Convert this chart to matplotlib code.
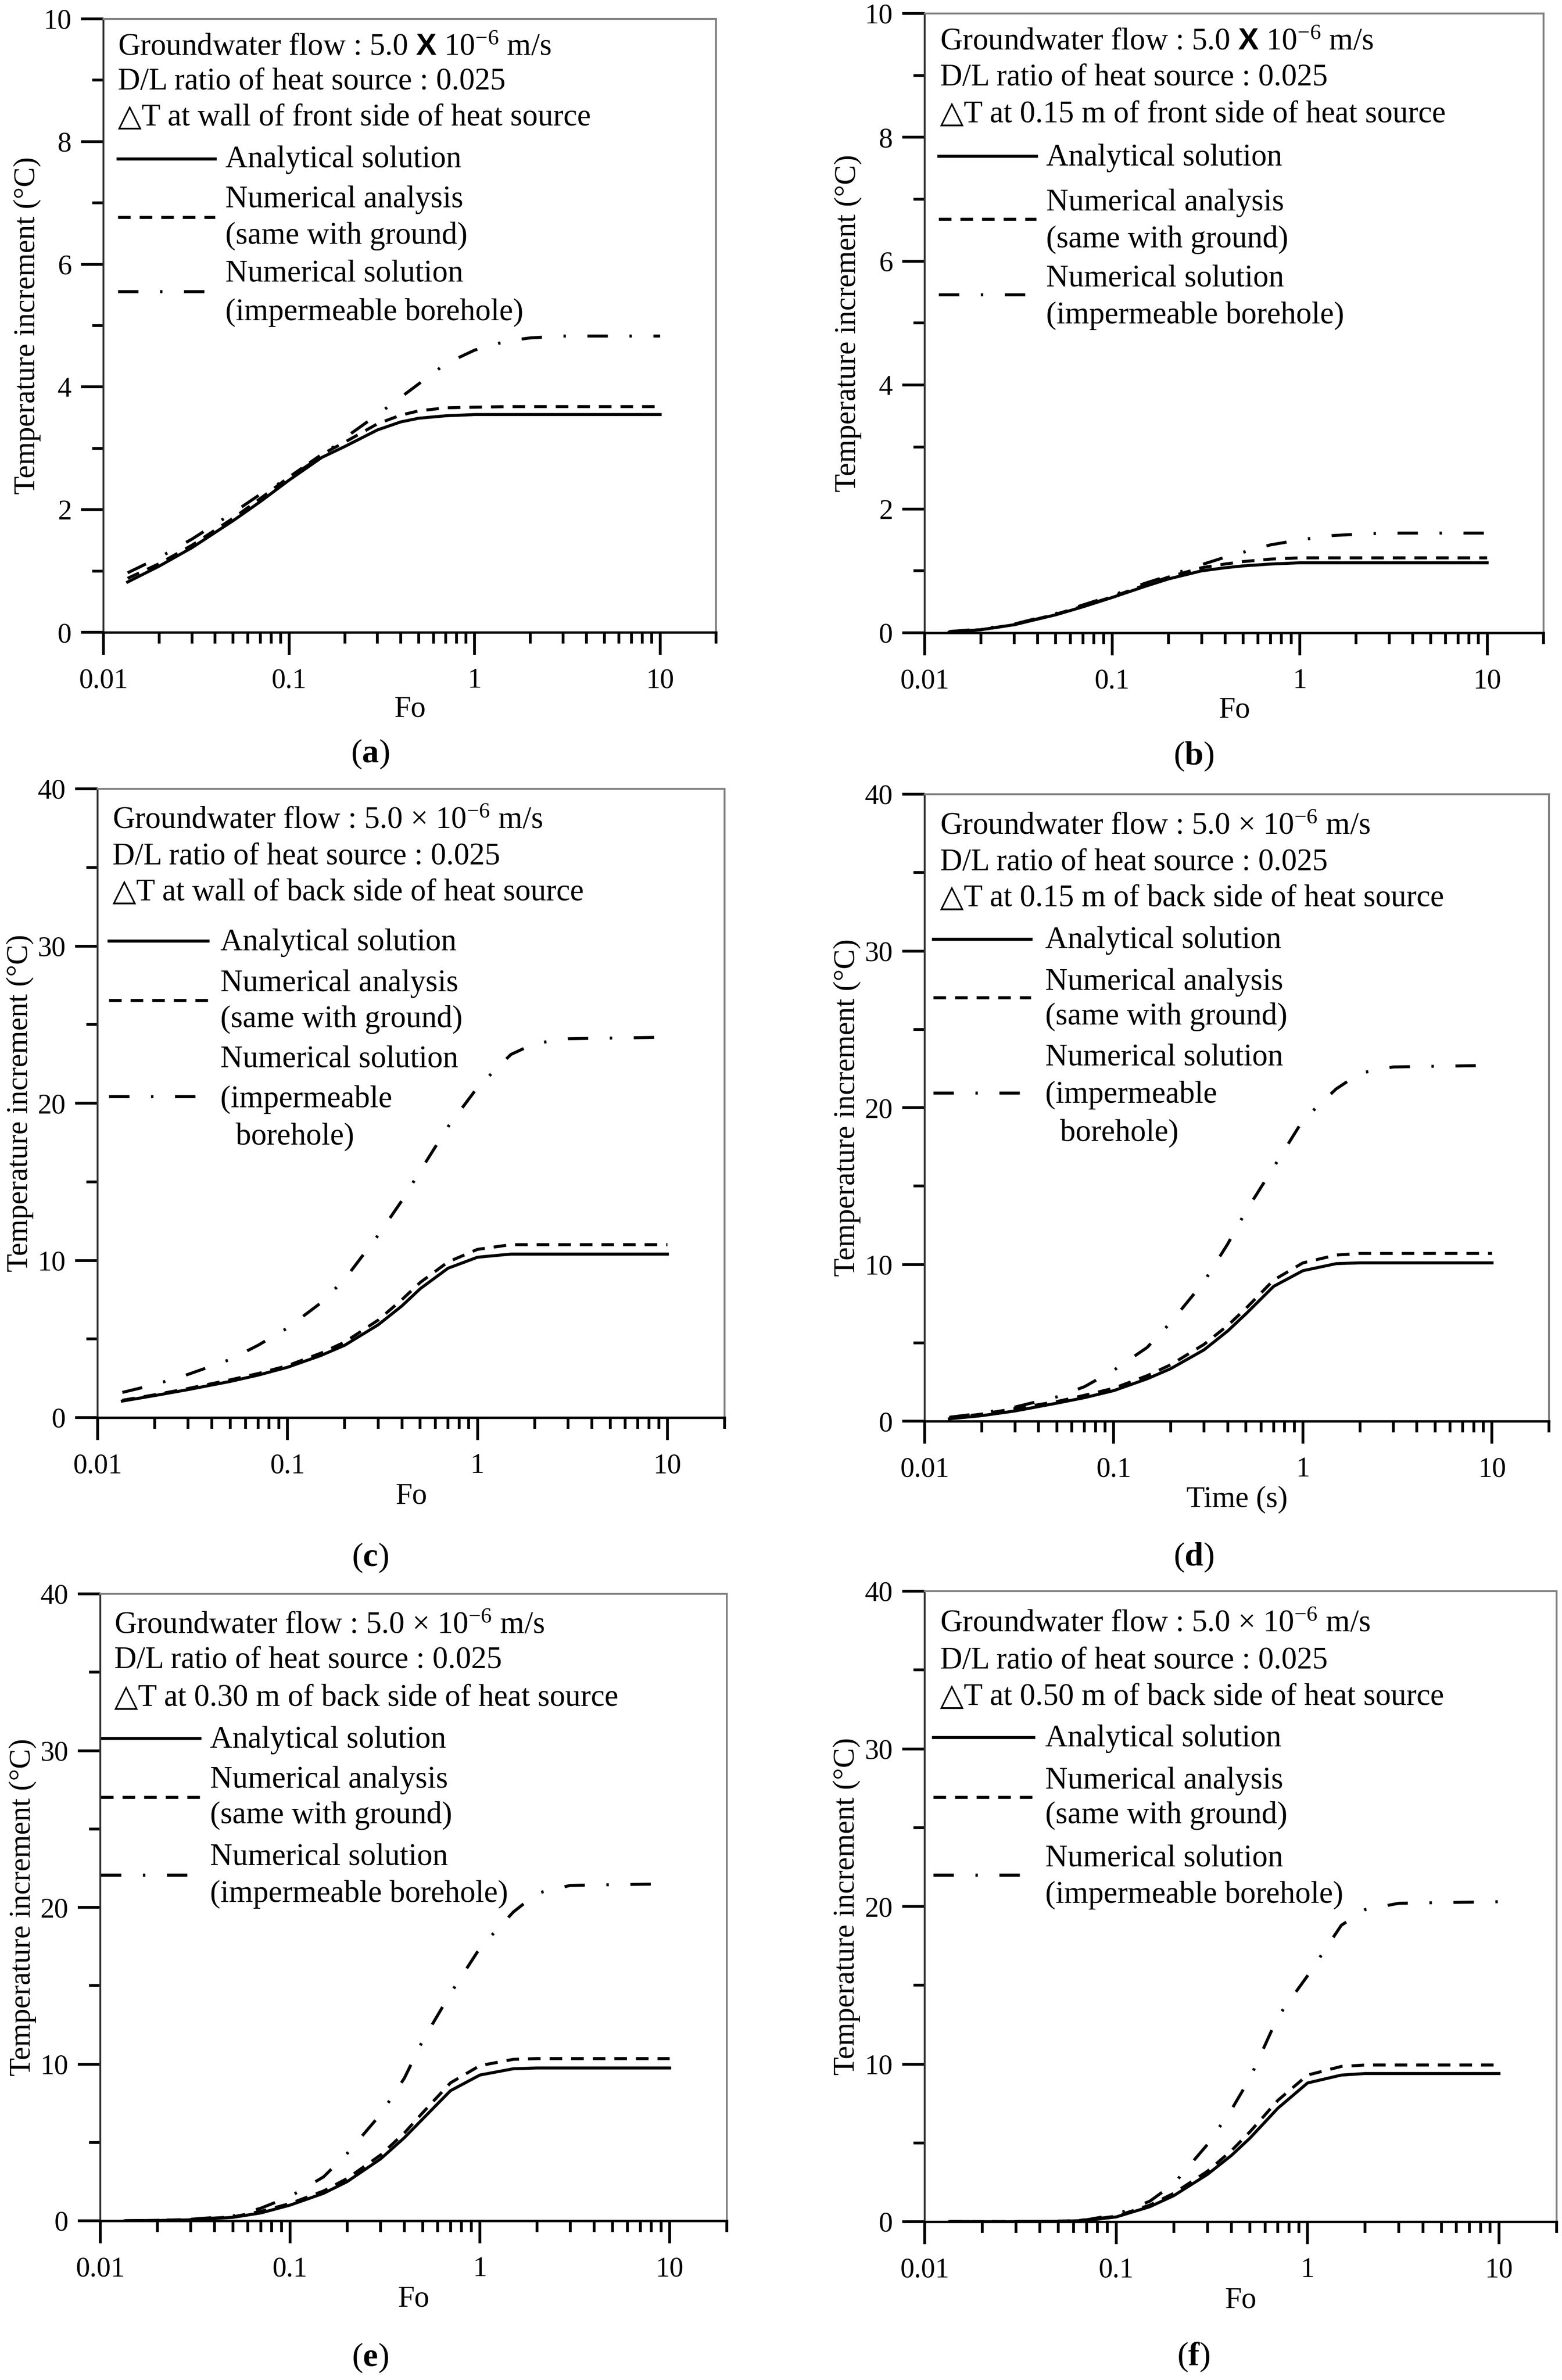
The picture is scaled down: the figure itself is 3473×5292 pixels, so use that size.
import numpy as np
import matplotlib
matplotlib.use("Agg")
import matplotlib.pyplot as plt
from matplotlib.ticker import FixedLocator, NullFormatter

plt.rcParams['font.family'] = ['Liberation Serif', 'DejaVu Serif', 'DejaVu Sans']
plt.rcParams['mathtext.fontset'] = 'custom'
plt.rcParams['mathtext.rm'] = 'Liberation Serif'
plt.rcParams['mathtext.it'] = 'Liberation Serif:italic'
plt.rcParams['mathtext.bf'] = 'Liberation Serif:bold'
plt.rcParams['mathtext.sf'] = 'Liberation Sans:bold'

# Fourier number (x) shared by every panel
FO = [0.0135, 0.02, 0.03, 0.05, 0.07, 0.1, 0.15, 0.2, 0.3, 0.4, 0.5, 0.7, 1.0, 1.5, 2.0, 3.0, 10.0]

# (a) wall, front side
A_ANALYTICAL = [0.82, 1.08, 1.38, 1.82, 2.13, 2.48, 2.85, 3.03, 3.30, 3.43, 3.49, 3.53, 3.55, 3.55, 3.55, 3.55, 3.55]
A_NUM_GROUND = [0.88, 1.12, 1.42, 1.86, 2.18, 2.53, 2.90, 3.10, 3.40, 3.54, 3.61, 3.66, 3.67, 3.68, 3.68, 3.68, 3.68]
A_NUM_IMPERM = [0.97, 1.22, 1.52, 1.95, 2.25, 2.52, 2.87, 3.17, 3.55, 3.83, 4.05, 4.38, 4.60, 4.75, 4.80, 4.83, 4.83]
# (b) 0.15 m, front side
B_ANALYTICAL = [0.01, 0.05, 0.13, 0.29, 0.42, 0.57, 0.75, 0.87, 1.00, 1.05, 1.08, 1.11, 1.13, 1.13, 1.13, 1.13, 1.13]
B_NUM_GROUND = [0.01, 0.05, 0.13, 0.30, 0.43, 0.58, 0.77, 0.90, 1.05, 1.11, 1.15, 1.19, 1.21, 1.21, 1.21, 1.21, 1.21]
B_NUM_IMPERM = [0.02, 0.06, 0.14, 0.31, 0.45, 0.60, 0.80, 0.92, 1.10, 1.22, 1.30, 1.42, 1.50, 1.57, 1.59, 1.61, 1.61]
# (c) wall, back side
C_ANALYTICAL = [1.05, 1.40, 1.78, 2.30, 2.70, 3.20, 3.95, 4.60, 5.90, 7.10, 8.20, 9.50, 10.2, 10.4, 10.4, 10.4, 10.4]
C_NUM_GROUND = [1.10, 1.45, 1.85, 2.40, 2.80, 3.30, 4.10, 4.80, 6.20, 7.50, 8.60, 9.90, 10.7, 11.0, 11.0, 11.0, 11.0]
C_NUM_IMPERM = [1.60, 2.10, 2.75, 3.70, 4.60, 5.70, 7.30, 8.80, 11.6, 13.8, 15.7, 18.5, 21.0, 23.1, 23.8, 24.1, 24.2]
# (d) 0.15 m, back side
D_ANALYTICAL = [0.15, 0.35, 0.65, 1.15, 1.50, 1.95, 2.70, 3.35, 4.55, 5.75, 6.85, 8.60, 9.60, 10.05, 10.1, 10.1, 10.1]
D_NUM_GROUND = [0.20, 0.45, 0.80, 1.25, 1.65, 2.10, 2.90, 3.60, 4.90, 6.10, 7.20, 9.00, 10.1, 10.6, 10.7, 10.7, 10.7]
D_NUM_IMPERM = [0.25, 0.50, 0.90, 1.55, 2.20, 3.25, 4.70, 6.30, 8.90, 11.3, 13.4, 16.2, 19.2, 21.2, 22.2, 22.6, 22.7]
# (e) 0.30 m, back side
E_ANALYTICAL = [0.0, 0.02, 0.06, 0.22, 0.50, 1.00, 1.75, 2.50, 3.95, 5.30, 6.50, 8.30, 9.30, 9.70, 9.75, 9.75, 9.75]
E_NUM_GROUND = [0.0, 0.03, 0.08, 0.25, 0.60, 1.10, 1.90, 2.70, 4.20, 5.60, 6.90, 8.80, 9.90, 10.3, 10.35, 10.35, 10.35]
E_NUM_IMPERM = [0.0, 0.03, 0.10, 0.30, 0.80, 1.55, 2.80, 4.30, 6.80, 9.10, 11.5, 14.5, 17.4, 19.7, 20.9, 21.4, 21.5]
# (f) 0.50 m, back side
F_ANALYTICAL = [0.0, 0.0, 0.0, 0.02, 0.08, 0.30, 0.95, 1.65, 3.00, 4.20, 5.30, 7.20, 8.80, 9.30, 9.40, 9.40, 9.40]
F_NUM_GROUND = [0.0, 0.0, 0.0, 0.03, 0.10, 0.35, 1.05, 1.80, 3.20, 4.50, 5.70, 7.70, 9.30, 9.85, 9.94, 9.94, 9.94]
F_NUM_IMPERM = [0.0, 0.0, 0.0, 0.03, 0.12, 0.45, 1.30, 2.40, 4.90, 7.10, 9.10, 13.0, 15.6, 18.8, 19.8, 20.2, 20.3]

FLOW_X = r"Groundwater flow : 5.0 $\mathsf{X}$ 10$^{-6}$ m/s"
FLOW_TIMES = r"Groundwater flow : 5.0 $\times$ 10$^{-6}$ m/s"
RATIO = "D/L ratio of heat source : 0.025"
POSITIONS = ["\u25b3T at wall of front side of heat source",
             "\u25b3T at 0.15 m of front side of heat source",
             "\u25b3T at wall of back side of heat source",
             "\u25b3T at 0.15 m of back side of heat source",
             "\u25b3T at 0.30 m of back side of heat source",
             "\u25b3T at 0.50 m of back side of heat source"]
XLABELS = ["Fo", "Fo", "Fo", "Time (s)", "Fo", "Fo"]
LETTERS = ["a", "b", "c", "d", "e", "f"]

W, H = 3473, 5292
fig = plt.figure(figsize=(W / 300, H / 300), dpi=300)

# pixel boxes of each axes: left, right, top, bottom
boxes = [(230, 1592, 42, 1406), (2056, 3432, 30, 1407),
         (217, 1611, 1754, 3152), (2056, 3444, 1766, 3160),
         (223, 1616, 3544, 4938), (2056, 3461, 3538, 4940)]
# legend block layout in axes fraction
# tx, hx0, hx1, lx, l1, l2, l3, an, an_h, na1, na2, na_h, ns1, ns2, ns3, ns_h
legs = [
    (.0235, .0235, .182, .199, .953, .897, .839, .770, .772, .705, .646, .677, .584, .521, None, .556),
    (.025, .0225, .180, .196, .953, .896, .837, .767, .770, .694, .635, .668, .571, .512, None, .546),
    (.024, .018, .176, .196, .949, .892, .835, .755, .758, .690, .633, .664, .569, .506, .447, .511),
    (.0245, .014, .170, .193, .948, .891, .834, .767, .769, .700, .645, .676, .579, .520, .460, .524),
    (.022, .001, .159, .175, .949, .894, .834, .767, .770, .703, .646, .676, .579, .521, None, .552),
    (.024, .0135, .172, .191, .948, .889, .832, .766, .768, .699, .644, .673, .575, .518, None, .550),
]
letter_pos = [(823, 1677), (2654, 1682), (823, 3464), (2654, 3463), (823, 5243), (2654, 5241)]

series = [(A_ANALYTICAL, A_NUM_GROUND, A_NUM_IMPERM), (B_ANALYTICAL, B_NUM_GROUND, B_NUM_IMPERM),
          (C_ANALYTICAL, C_NUM_GROUND, C_NUM_IMPERM), (D_ANALYTICAL, D_NUM_GROUND, D_NUM_IMPERM),
          (E_ANALYTICAL, E_NUM_GROUND, E_NUM_IMPERM), (F_ANALYTICAL, F_NUM_GROUND, F_NUM_IMPERM)]

LW = 1.6
DASHED = (0, (4.2, 3.0))
DASHDOT = (0, (6.8, 7.2, 0.8, 7.2))
FS_LEG = 16.5
FS_TICK = 15
FS_LAB = 16

MINOR_X = [k * d for d in (0.01, 0.1, 1, 10) for k in range(2, 10) if k * d <= 20]

for i in range(6):
    L, R, T, B = boxes[i]
    ax = fig.add_axes([L / W, 1 - B / H, (R - L) / W, (B - T) / H])
    an, ng, ni = series[i]
    ax.plot(FO, an, color='black', lw=LW, ls='-')
    ax.plot(FO, ng, color='black', lw=LW, ls=DASHED)
    ax.plot(FO, ni, color='black', lw=LW, ls=DASHDOT)

    ax.set_xscale('log')
    ax.set_xlim(0.01, 20)
    ax.xaxis.set_major_locator(FixedLocator([0.01, 0.1, 1, 10]))
    ax.set_xticklabels(["0.01", "0.1", "1", "10"])
    ax.xaxis.set_minor_locator(FixedLocator(MINOR_X))
    ax.xaxis.set_minor_formatter(NullFormatter())
    if i < 2:
        ax.set_ylim(0, 10)
        ax.set_yticks([0, 2, 4, 6, 8, 10], labels=["0", "2", "4", "6", "8", "10"])
        ax.yaxis.set_minor_locator(FixedLocator([1, 3, 5, 7, 9]))
    else:
        ax.set_ylim(0, 40)
        ax.set_yticks([0, 10, 20, 30, 40], labels=["0", "10", "20", "30", "40"])
        ax.yaxis.set_minor_locator(FixedLocator([5, 15, 25, 35]))
    ax.xaxis.set_tick_params(which='major', direction='out', length=12, width=1.5,
                             color='black', labelsize=FS_TICK, pad=7, bottom=True)
    ax.xaxis.set_tick_params(which='minor', direction='out', length=6, width=1.5,
                             color='black', bottom=True)
    ax.yaxis.set_tick_params(which='major', direction='out', length=12, width=1.5,
                             color='black', labelsize=FS_TICK, pad=5, left=True)
    ax.yaxis.set_tick_params(which='minor', direction='out', length=6, width=1.5,
                             color='black', left=True)
    for s in ('top', 'right'):
        ax.spines[s].set_color('#808080')
        ax.spines[s].set_linewidth(1.0)
    ax.spines['left'].set_color('#333333')
    ax.spines['left'].set_linewidth(1.0)
    ax.spines['bottom'].set_color('black')
    ax.spines['bottom'].set_linewidth(1.3)

    ax.set_xlabel(XLABELS[i], fontsize=FS_LAB, va='center')
    ax.xaxis.set_label_coords(0.5, -0.125)
    ax.set_ylabel("Temperature increment (\u00b0C)", fontsize=FS_LAB)
    ax.yaxis.set_label_coords(-0.102, 0.5)

    # legend block
    tx, hx0, hx1, lx, l1, l2, l3, y_an, h_an, na1, na2, h_na, ns1, ns2, ns3, h_ns = legs[i]
    tr = ax.transAxes
    ax.text(tx, l1, FLOW_X if i < 2 else FLOW_TIMES, transform=tr, fontsize=FS_LEG, va='center')
    ax.text(tx, l2, RATIO, transform=tr, fontsize=FS_LEG, va='center')
    ax.text(tx, l3, POSITIONS[i], transform=tr, fontsize=FS_LEG, va='center')
    ax.plot([hx0, hx1], [h_an, h_an], transform=tr, color='black', lw=LW, ls='-', clip_on=False)
    ax.plot([hx0, hx1], [h_na, h_na], transform=tr, color='black', lw=LW, ls=DASHED, clip_on=False)
    ax.plot([hx0, hx1 - 0.012], [h_ns, h_ns], transform=tr, color='black', lw=LW,
            ls=DASHDOT, clip_on=False)
    ax.text(lx, y_an, "Analytical solution", transform=tr, fontsize=FS_LEG, va='center')
    ax.text(lx, na1, "Numerical analysis", transform=tr, fontsize=FS_LEG, va='center')
    ax.text(lx, na2, "(same with ground)", transform=tr, fontsize=FS_LEG, va='center')
    ax.text(lx, ns1, "Numerical solution", transform=tr, fontsize=FS_LEG, va='center')
    if ns3 is None:
        ax.text(lx, ns2, "(impermeable borehole)", transform=tr, fontsize=FS_LEG, va='center')
    else:
        ax.text(lx, ns2, "(impermeable", transform=tr, fontsize=FS_LEG, va='center')
        ax.text(lx + 0.024, ns3, "borehole)", transform=tr, fontsize=FS_LEG, va='center')

    px, py = letter_pos[i]
    fig.text(px / W, 1 - py / H, r"($\mathbf{%s}$)" % LETTERS[i], fontsize=18,
             ha='center', va='center')

fig.savefig("out.png", dpi=300)
